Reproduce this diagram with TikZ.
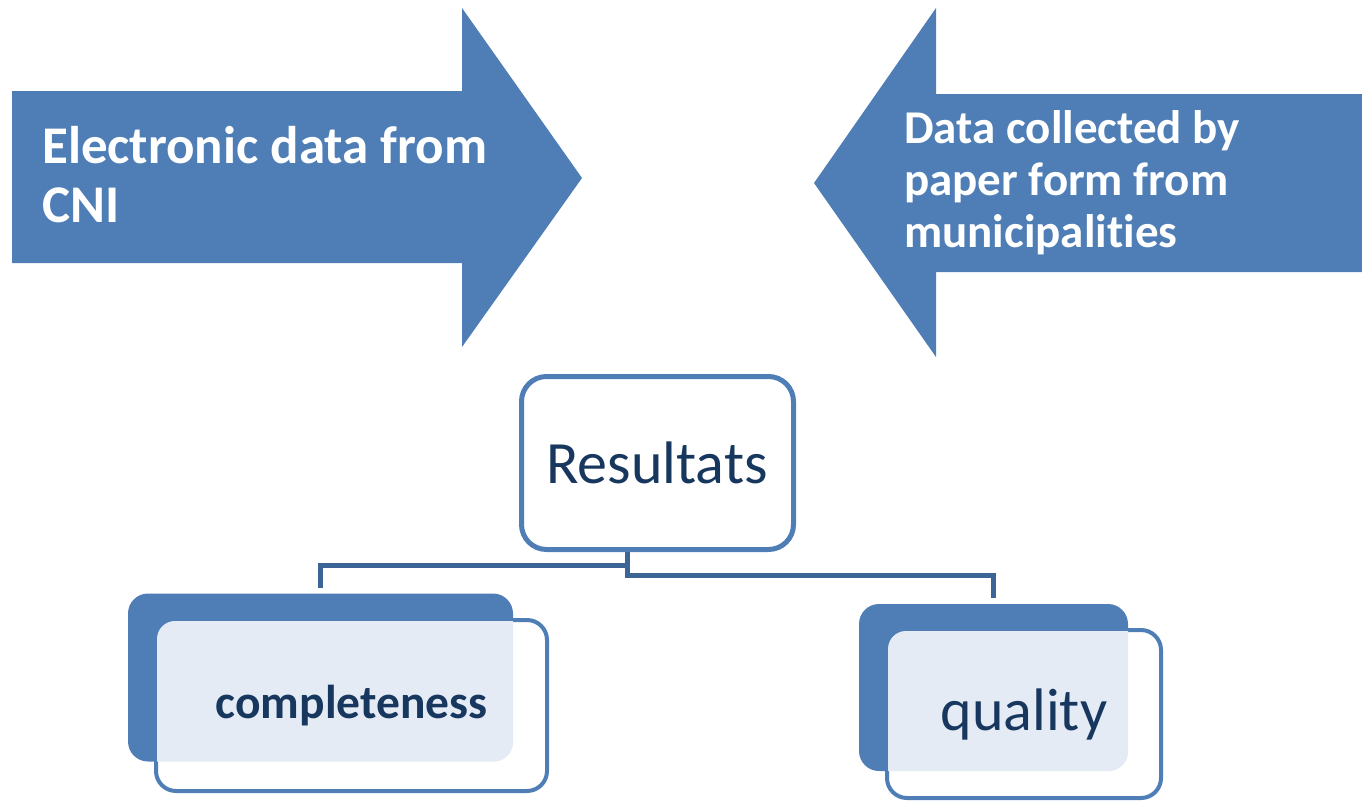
\documentclass[tikz,border=0pt]{standalone}
\usepackage{fontspec}
\setmainfont{Carlito}[Ligatures={NoCommon}]
\definecolor{ablue}{HTML}{4F7EB6}
\definecolor{cblue}{HTML}{3C6497}
\definecolor{navy}{HTML}{17375E}
\definecolor{dotfill}{HTML}{E4EBF5}
\begin{document}
\begin{tikzpicture}[x=1pt,y=-1pt,
  arrowtxt/.style={text=white, align=left, inner sep=0pt, anchor=base west},
  resbox/.style={draw=ablue, line width=5pt, rounded corners=25pt, fill=white, inner sep=0pt},
  backbox/.style={fill=ablue, rounded corners=20pt, inner sep=0pt},
  frontbox/.style={draw=ablue, line width=4pt, rounded corners=20pt, fill=white, inner sep=0pt},
  conn/.style={draw=cblue, line width=5pt},
  lbl/.style={text=navy, inner sep=0pt}]
\useasboundingbox (0,0) rectangle (1362,801);
% arrows
\fill[ablue] (12,91) -- (462,91) -- (462,8) -- (582,178) -- (462,347) -- (462,263) -- (12,263) -- cycle;
\fill[ablue] (1362,94) -- (936,94) -- (936,8) -- (814,183) -- (936,357) -- (936,272) -- (1362,272) -- cycle;
\node[arrowtxt, font=\fontsize{53}{59}\selectfont\bfseries] (t1) at (42,222) {Electronic data from\\CNI};
\node[arrowtxt, font=\fontsize{47}{52}\selectfont\bfseries] (t2) at (904,247) {Data collected by\\paper form from\\municipalities};
% result box
\node[resbox, minimum width=272pt, minimum height=173pt] (res) at (657.5,463) {};
\node[lbl, font=\fontsize{60}{66}\selectfont] (restxt) at (657,463) {Resultats};
% left group
\node[backbox, minimum width=385pt, minimum height=168pt] (lback) at (320.5,677.5) {};
\node[frontbox, minimum width=391pt, minimum height=171pt] (lfront) at (351.5,705.5) {};
\begin{scope}
  \clip[rounded corners=20pt] (lback.north west) rectangle (lback.south east);
  \fill[dotfill, rounded corners=18pt] ([shift={(3,3)}]lfront.north west) rectangle ([shift={(-3,-3)}]lfront.south east);
\end{scope}
\node[lbl, font=\fontsize{47.5}{52}\selectfont\bfseries] (ltxt) at (351.5,706) {completeness};
% right group
\node[backbox, minimum width=269pt, minimum height=167pt] (rback) at (993.5,687.5) {};
\node[frontbox, minimum width=274pt, minimum height=168pt] (rfront) at (1024,714) {};
\begin{scope}
  \clip[rounded corners=20pt] (rback.north west) rectangle (rback.south east);
  \fill[dotfill, rounded corners=18pt] ([shift={(3,3)}]rfront.north west) rectangle ([shift={(-3,-3)}]rfront.south east);
\end{scope}
\node[lbl, font=\fontsize{60}{66}\selectfont] (rtxt) at (1024,714) {quality};
% connectors
\coordinate (j) at (627,565);
\coordinate (k) at (627,575);
\draw[conn, shorten >=5pt] (res.south -| j) -- (j) -| (lback.north);
\draw[conn, shorten >=6pt] (j) -- (k) -| (rback.north);
\end{tikzpicture}
\end{document}
